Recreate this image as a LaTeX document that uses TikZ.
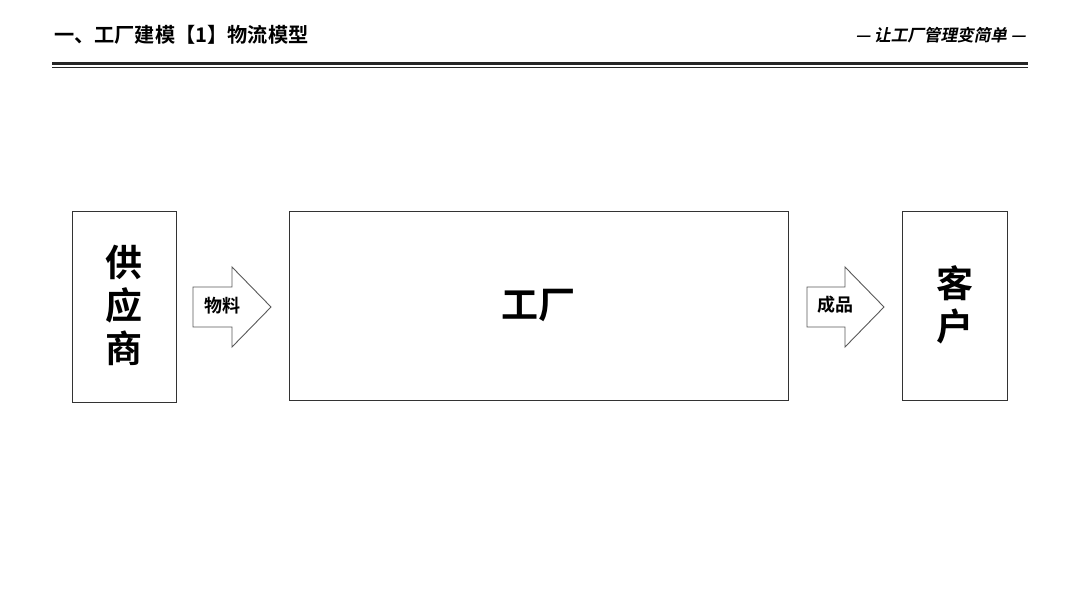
\documentclass[tikz,border=0pt]{standalone}
\usepackage{fontspec}
\newfontfamily\cjk{Noto Sans CJK SC}[BoldFont={Noto Sans CJK SC Bold}]
\newfontfamily\cjkit{Noto Sans CJK SC}[BoldFont={Noto Sans CJK SC Bold},FakeSlant=0.2]
\begin{document}
\begin{tikzpicture}[x=1pt,y=-1pt,
  box/.style={draw=black!80,line width=1pt,fill=white},
  blockarrow/.style={draw=black!65,line width=0.9pt,fill=white,line join=miter},
  bigtxt/.style={font=\cjk\bfseries\fontsize{37}{43}\selectfont,align=center,inner sep=0pt},
  smalltxt/.style={font=\cjk\bfseries\fontsize{18}{20}\selectfont,inner sep=0pt}]
\useasboundingbox (0,0) rectangle (1080,608);
% header
\node[anchor=west,inner sep=0pt,font=\cjk\bfseries\fontsize{20.2}{22}\selectfont] (title) at (54,35) {一、工厂建模【1】物流模型};
\node[anchor=east,inner sep=0pt,font=\cjkit\bfseries\fontsize{16.6}{18}\selectfont] (slogan) at (1026,35) {— 让工厂管理变简单 —};
\coordinate (l1a) at (52,63.5); \coordinate (l1b) at (1028,63.5);
\coordinate (l2a) at (52,67.5); \coordinate (l2b) at (1028,67.5);
\draw[line width=2.2pt,black!85] (l1a) -- (l1b);
\draw[line width=1.4pt,black!85] (l2a) -- (l2b);
% boxes
\draw[box] (72,211) rectangle (176,402);
\node[bigtxt] (sup) at (124,305) {供\\应\\商};
\draw[box] (289,211) rectangle (788,400);
\node[bigtxt] (fac) at (538,305) {工厂};
\draw[box] (902,211) rectangle (1007,400);
\node[bigtxt] (cus) at (954.5,305) {客\\户};
% arrows
\draw[blockarrow] (193,287) -- (232,287) -- (232,267) -- (271,307) -- (232,347) -- (232,327) -- (193,327) -- cycle;
\node[smalltxt] (mat) at (222,306) {物料};
\draw[blockarrow] (807,287) -- (845,287) -- (845,267) -- (884,307) -- (845,347) -- (845,327) -- (807,327) -- cycle;
\node[smalltxt] (prod) at (835,305) {成品};
\end{tikzpicture}
\end{document}
